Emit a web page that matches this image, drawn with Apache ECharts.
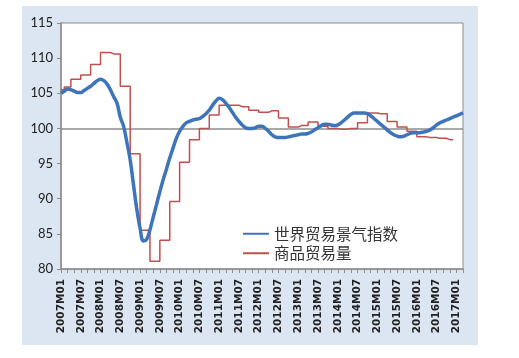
<!DOCTYPE html>
<html>
<head>
<meta charset="utf-8">
<script src="https://cdn.jsdelivr.net/npm/echarts@6/dist/echarts.min.js"></script>
<style>
html,body{margin:0;padding:0;background:#fff;}
#panel{position:absolute;left:22px;top:6px;width:456px;height:339px;background:#dce6f2;}
#chart{position:absolute;left:0;top:0;width:519px;height:358px;}
</style>
</head>
<body>
<div id="panel"></div>
<div id="chart"></div>
<script>
// Categories: monthly, 2007M01 .. 2017M03
const startYear = 2007;
const monthCount = 123;
const categories = [];
for (let i = 0; i < monthCount; i++) {
  const y = startYear + Math.floor(i / 12);
  const m = (i % 12) + 1;
  categories.push(y + 'M' + (m < 10 ? '0' + m : '' + m));
}

const seriesNames = ['世界贸易景气指数', '商品贸易量'];

// World trade outlook indicator (monthly, 2007M01..2017M03)
const wtoiValues = [
  105.0, 105.3, 105.6, 105.5, 105.3, 105.1, 105.1, 105.4, 105.7, 106.0, 106.4, 106.8,
  107.0, 106.8, 106.3, 105.5, 104.5, 103.6, 101.6, 100.3, 98.0, 95.5, 92.0, 88.5,
  85.8, 84.0, 84.2, 85.6, 87.4, 89.2, 91.0, 92.7, 94.2, 95.8, 97.2, 98.6,
  99.6, 100.3, 100.8, 101.0, 101.2, 101.3, 101.4, 101.7, 102.1, 102.6, 103.3, 103.9,
  104.3, 104.1, 103.6, 103.0, 102.3, 101.6, 101.0, 100.5, 100.1, 100.0, 100.0, 100.1,
  100.3, 100.3, 100.0, 99.6, 99.1, 98.8, 98.7, 98.7, 98.7, 98.8, 98.9, 99.0,
  99.1, 99.2, 99.2, 99.3, 99.5, 99.8, 100.1, 100.4, 100.6, 100.6, 100.5, 100.4,
  100.5, 100.8, 101.2, 101.6, 102.0, 102.2, 102.2, 102.2, 102.2, 102.1, 101.8, 101.4,
  101.0, 100.6, 100.2, 99.8, 99.4, 99.1, 98.9, 98.8, 98.9, 99.1, 99.3, 99.4,
  99.4, 99.4, 99.5, 99.6, 99.8, 100.1, 100.5, 100.8, 101.0, 101.2, 101.4, 101.6,
  101.8, 102.0, 102.2
];

// Merchandise trade volume (monthly, 2007M01..2016M12)
const volumeValues = [
  105.5, 105.9, 105.9, 107.0, 107.0, 107.0, 107.6, 107.6, 107.6, 109.1, 109.1, 109.1,
  110.8, 110.8, 110.8, 110.6, 110.6, 110.6, 106.0, 106.0, 106.0, 96.4, 96.4, 96.4,
  85.5, 85.5, 85.5, 81.1, 81.1, 81.1, 84.1, 84.1, 84.1, 89.6, 89.6, 89.6,
  95.2, 95.2, 95.2, 98.4, 98.4, 98.4, 100.0, 100.0, 100.0, 101.9, 101.9, 101.9,
  103.3, 103.3, 103.3, 103.3, 103.3, 103.3, 103.1, 103.1, 103.1, 102.6, 102.6, 102.6,
  102.3, 102.3, 102.3, 102.5, 102.5, 102.5, 101.5, 101.5, 101.5, 100.2, 100.2, 100.2,
  100.4, 100.4, 100.4, 100.9, 100.9, 100.9, 100.3, 100.3, 100.3, 100.0, 100.0, 100.0,
  99.9, 99.9, 99.9, 100.0, 100.0, 100.0, 100.8, 100.8, 100.8, 102.2, 102.2, 102.2,
  102.1, 102.1, 102.1, 101.0, 101.0, 101.0, 100.2, 100.2, 100.2, 99.6, 99.6, 99.6,
  98.8, 98.8, 98.8, 98.7, 98.7, 98.7, 98.6, 98.6, 98.6, 98.4, 98.4, 98.4
];

const yMin = 80, yMax = 115, yStep = 5;
const baseline = 100;

const chart = echarts.init(document.getElementById('chart'), null, {renderer: 'canvas'});
chart.setOption({
  animation: false,
  backgroundColor: 'transparent',
  grid: {
    left: 61, right: 56, top: 23, bottom: 89,
    show: true, backgroundColor: '#ffffff',
    borderColor: '#8c8c8c', borderWidth: 1
  },
  legend: {
    orient: 'vertical',
    left: 237, top: 221,
    itemWidth: 26, itemHeight: 2, itemGap: 4,
    textStyle: {fontFamily: 'Noto Sans CJK SC', fontSize: 15.5, color: '#333', padding: [-3, 0, 0, 0]},
    data: seriesNames
  },
  xAxis: {
    type: 'category',
    data: categories,
    boundaryGap: false,
    axisLine: {lineStyle: {color: '#8c8c8c', width: 1.5}},
    axisTick: {show: true, interval: 1, length: 4, lineStyle: {color: '#8c8c8c'}},
    axisLabel: {
      interval: 5, rotate: 90, margin: 10,
      fontFamily: 'DejaVu Sans', fontWeight: 'bold', fontSize: 10.5, color: '#222'
    },
    splitLine: {show: false}
  },
  yAxis: {
    type: 'value',
    min: yMin, max: yMax, interval: yStep,
    axisLine: {show: true, lineStyle: {color: '#8c8c8c', width: 1.5}},
    axisTick: {show: true, length: 4, lineStyle: {color: '#8c8c8c'}},
    axisLabel: {fontFamily: 'Lato', fontSize: 13, color: '#222', margin: 8},
    splitLine: {show: false}
  },
  series: [
    {
      name: seriesNames[0],
      type: 'line',
      data: wtoiValues,
      smooth: 0.4,
      symbol: 'none',
      z: 4,
      lineStyle: {color: '#3d74ba', width: 3.5},
      itemStyle: {color: '#3d74ba'}
    },
    {
      name: seriesNames[1],
      type: 'line',
      data: volumeValues,
      step: 'end',
      symbol: 'none',
      z: 3,
      lineStyle: {color: '#c0504d', width: 1.5},
      itemStyle: {color: '#c0504d'},
      markLine: {
        silent: true,
        symbol: 'none',
        z: 1,
        label: {show: false},
        lineStyle: {color: '#8c8c8c', width: 1.5, type: 'solid'},
        data: [{yAxis: baseline}]
      }
    }
  ]
});
</script>
</body>
</html>
